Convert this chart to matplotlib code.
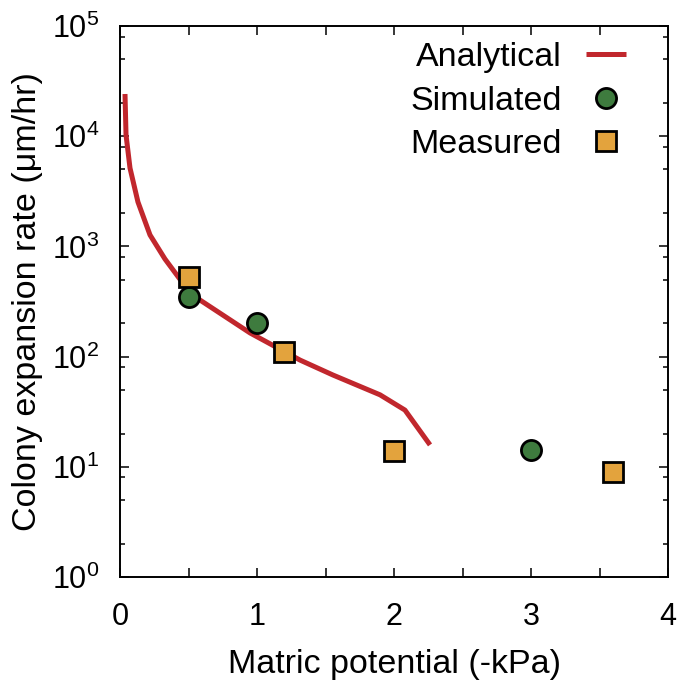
import matplotlib
matplotlib.use("Agg")
import matplotlib.pyplot as plt
from matplotlib.ticker import FixedLocator, FuncFormatter, LogLocator, LogFormatterMathtext, NullFormatter

plt.rcParams['font.family'] = ['Liberation Sans', 'DejaVu Sans']
plt.rcParams['mathtext.fontset'] = 'custom'
plt.rcParams['mathtext.rm'] = 'Liberation Sans'
plt.rcParams['mathtext.default'] = 'regular'

# Data
analytical_x = [0.0365, 0.044, 0.073, 0.131, 0.219, 0.328, 0.496, 0.584, 0.949, 1.314, 1.555, 1.898, 2.08, 2.263]
analytical_y = [24150, 10250, 5140, 2530, 1270, 769, 402, 326, 164, 93, 68, 45, 32.7, 15.8]
simulated_x = [0.5, 1.0, 3.0]
simulated_y = [345, 200, 14.2]
measured_x = [0.5, 1.2, 2.0, 3.6]
measured_y = [525, 109, 13.9, 9.0]
x_ticks = [0, 0.5, 1, 1.5, 2, 2.5, 3, 3.5, 4]

fig = plt.figure(figsize=(6.83, 6.89), dpi=100)
ax = fig.add_axes([120/683, 1-577/689, 548/683, 551/689])

ax.plot(analytical_x, analytical_y, color='#c1272d', lw=3.6, label='Analytical', solid_capstyle='butt')
ax.plot(simulated_x, simulated_y, ls='none', marker='o', ms=14.5, mfc='#3e7b3e', mec='black', mew=2, label='Simulated')
ax.plot(measured_x, measured_y, ls='none', marker='s', ms=14.5, mfc='#e3a33d', mec='black', mew=2, label='Measured')

ax.set_yscale('log')
ax.set_xlim(0, 4)
ax.set_ylim(1, 1e5)

ax.xaxis.set_major_locator(FixedLocator(x_ticks))
ax.xaxis.set_major_formatter(FuncFormatter(lambda v, p: f"{int(round(v))}" if abs(v - round(v)) < 1e-6 else ""))
ax.yaxis.set_major_locator(LogLocator(base=10, numticks=10))
ax.yaxis.set_major_formatter(LogFormatterMathtext())
ax.yaxis.set_minor_locator(LogLocator(base=10, subs=[2, 5, 8], numticks=10))
ax.yaxis.set_minor_formatter(NullFormatter())

ax.tick_params(which='both', direction='in', top=True, right=True, width=1.1, color='black')
ax.tick_params(which='major', length=6.5)
ax.tick_params(which='minor', length=3.5)
ax.tick_params(axis='x', which='major', labelsize=22, pad=18)
ax.tick_params(axis='y', which='major', labelsize=22, pad=15)
for s in ax.spines.values():
    s.set_linewidth(1.4)

ax.set_xlabel('Matric potential (-kPa)', fontsize=24.5, labelpad=12)
ax.set_ylabel('Colony expansion rate (μm/hr)', fontsize=24.5, labelpad=6)

leg = ax.legend(loc='upper right', frameon=False, fontsize=24.5, markerfirst=False,
                handlelength=1.2, handletextpad=0.7, labelspacing=0.36,
                bbox_to_anchor=(0.949, 0.995), borderaxespad=0.0)

fig.savefig('out.png', dpi=100)
